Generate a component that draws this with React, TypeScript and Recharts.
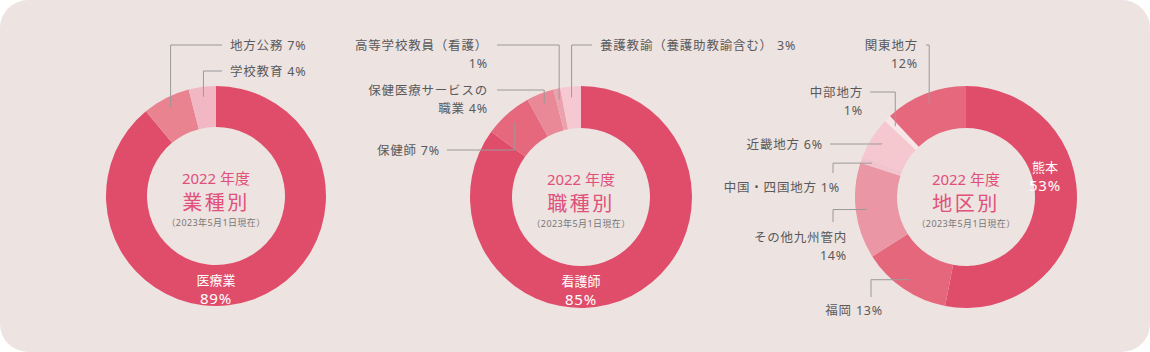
import React from "react";
import { PieChart, Pie, Cell } from "recharts";

// 業種別
const jobCats = ["医療業", "地方公務", "学校教育"];
const jobVals = [89, 7, 4];
const jobColors = ["#e04d6b", "#e9838f", "#f1b8c3"];

// 職種別
const occCats = ["看護師", "保健師", "保健医療サービスの職業", "高等学校教員（看護）", "養護教諭（養護助教諭含む）"];
const occVals = [85, 7, 4, 1, 3];
const occColors = ["#e04d6b", "#e5687d", "#e98897", "#eca2ae", "#f6c9d2"];

// 地区別
const regionCats = ["熊本", "福岡", "その他九州管内", "中国・四国地方", "近畿地方", "中部地方", "関東地方"];
const regionVals = [53, 13, 14, 1, 6, 1, 12];
const regionColors = ["#e04d6b", "#e5677c", "#ea96a4", "#f2c4cd", "#f5c8d0", "#f9e6e9", "#e5687d"];

const titles = ["業種別", "職種別", "地区別"];
const yearText = "2022 年度";
const asOfText = "（2023年5月1日現在）";

const RAD = Math.PI / 180;
const FONT = "'Noto Sans', 'Noto Sans CJK JP', sans-serif";
const LINE = "#9a9a9a";
const TEXT = "#5a5a5a";
const PINK = "#e0507a";

type Callout = {
  kind: "v" | "h" | "in";
  at: number; // lineY for v, elbowX for h
  end: number; // endX for v, endY for h
  tx: number;
  ty: number;
  anchor: "start" | "end" | "middle";
  br?: number; // where the name breaks to a 2nd line
};

const jobLayout: Callout[] = [
  { kind: "in", at: 0, end: 0, tx: 0, ty: 84, anchor: "middle" },
  { kind: "v", at: 45, end: 222, tx: 230, ty: 45, anchor: "start" },
  { kind: "v", at: 71, end: 222, tx: 230, ty: 71, anchor: "start" },
];
const occLayout: Callout[] = [
  { kind: "in", at: 0, end: 0, tx: 0, ty: 84, anchor: "middle" },
  { kind: "v", at: 150, end: 447, tx: 440, ty: 150, anchor: "end" },
  { kind: "v", at: 90, end: 497, tx: 488, ty: 90, anchor: "end", br: 9 },
  { kind: "v", at: 45, end: 497, tx: 488, ty: 45, anchor: "end", br: 10 },
  { kind: "v", at: 45, end: 592, tx: 600, ty: 45, anchor: "start" },
];
const regionLayout: Callout[] = [
  { kind: "in", at: 0, end: 0, tx: 79, ty: -30, anchor: "middle" },
  { kind: "h", at: 871, end: 297, tx: 883, ty: 310, anchor: "end" },
  { kind: "h", at: 833, end: 222, tx: 847, ty: 237, anchor: "end", br: 7 },
  { kind: "h", at: 833, end: 173, tx: 840, ty: 187, anchor: "end" },
  { kind: "v", at: 144, end: 830, tx: 823, ty: 144, anchor: "end" },
  { kind: "v", at: 92, end: 870, tx: 863, ty: 92, anchor: "end", br: 4 },
  { kind: "v", at: 45, end: 926, tx: 918, ty: 45, anchor: "end", br: 4 },
];

function makeLabel(cats: string[], vals: number[], layout: Callout[], title: string) {
  return (props: any) => {
    const { cx, cy, midAngle, index } = props;
    const l = layout[index];
    const name = cats[index];
    const pct = `${vals[index]}%`;
    if (l.kind === "in") {
      return (
        <g key={`in-${index}`}>
          <text x={cx} y={cy - 18} textAnchor="middle" dominantBaseline="central" fill={PINK} fontFamily={FONT} fontSize={15}>
            {yearText}
          </text>
          <text x={cx} y={cy + 6} textAnchor="middle" dominantBaseline="central" fill={PINK} fontFamily={FONT} fontSize={20} letterSpacing={2.5}>
            {title}
          </text>
          <text x={cx} y={cy + 26} textAnchor="middle" dominantBaseline="central" fill="#777" fontFamily={FONT} fontSize={9} letterSpacing={0.4}>
            {asOfText}
          </text>
          <text x={cx + l.tx} y={cy + l.ty} textAnchor="middle" dominantBaseline="central" fill="#fff" fontFamily={FONT} fontSize={13}>
            {name}
          </text>
          <text x={cx + l.tx} y={cy + l.ty + 18} textAnchor="middle" dominantBaseline="central" fill="#fff" fontFamily={FONT} fontSize={15} letterSpacing={0.8}>
            {pct}
          </text>
        </g>
      );
    }
    const r = 100;
    const x0 = cx + r * Math.cos(-midAngle * RAD);
    const y0 = cy + r * Math.sin(-midAngle * RAD);
    const pts =
      l.kind === "v"
        ? `${x0},${y0} ${x0},${l.at} ${l.end},${l.at}`
        : `${x0},${y0} ${l.at},${y0} ${l.at},${l.end}`;
    const lines =
      l.br !== undefined
        ? [name.slice(0, l.br), (name.slice(l.br) + " " + pct).trim()]
        : [`${name} ${pct}`];
    return (
      <g key={`lb-${index}`}>
        <polyline points={pts} fill="none" stroke={LINE} strokeWidth={1} />
        {lines.map((t, i) => (
          <text
            key={i}
            x={l.tx}
            y={l.ty + i * 18}
            textAnchor={l.anchor}
            dominantBaseline="central"
            fill={TEXT}
            fontFamily={FONT}
            fontSize={12.5}
            letterSpacing={0.8}
          >
            {t}
          </text>
        ))}
      </g>
    );
  };
}

const jobData = jobCats.map((c, i) => ({ name: c, value: jobVals[i] }));
const occData = occCats.map((c, i) => ({ name: c, value: occVals[i] }));
const regionData = regionCats.map((c, i) => ({ name: c, value: regionVals[i] }));

export default function App() {
  return (
    <div style={{ position: "absolute", left: 0, top: 0, width: 1150, height: 352, background: "#fff" }}>
      <div style={{ position: "absolute", inset: 0, borderRadius: 28, background: "#ede3e1" }} />
      <div style={{ position: "absolute", left: 0, top: 0 }}>
        <PieChart width={1150} height={352} margin={{ top: 0, right: 0, bottom: 0, left: 0 }}>
          <Pie
            data={jobData}
            dataKey="value"
            cx={216}
            cy={196}
            innerRadius={69}
            outerRadius={110}
            startAngle={90}
            endAngle={-270}
            stroke="none"
            labelLine={false}
            label={makeLabel(jobCats, jobVals, jobLayout, titles[0])}
            isAnimationActive={false}
          >
            {jobData.map((d, i) => (
              <Cell key={d.name} fill={jobColors[i]} />
            ))}
          </Pie>
          <Pie
            data={occData}
            dataKey="value"
            cx={581}
            cy={197}
            innerRadius={69}
            outerRadius={111}
            startAngle={90}
            endAngle={-270}
            stroke="none"
            labelLine={false}
            label={makeLabel(occCats, occVals, occLayout, titles[1])}
            isAnimationActive={false}
          >
            {occData.map((d, i) => (
              <Cell key={d.name} fill={occColors[i]} />
            ))}
          </Pie>
          <Pie
            data={regionData}
            dataKey="value"
            cx={966}
            cy={197}
            innerRadius={69}
            outerRadius={111}
            startAngle={90}
            endAngle={-270}
            stroke="none"
            labelLine={false}
            label={makeLabel(regionCats, regionVals, regionLayout, titles[2])}
            isAnimationActive={false}
          >
            {regionData.map((d, i) => (
              <Cell key={d.name} fill={regionColors[i]} />
            ))}
          </Pie>
        </PieChart>
      </div>
    </div>
  );
}
